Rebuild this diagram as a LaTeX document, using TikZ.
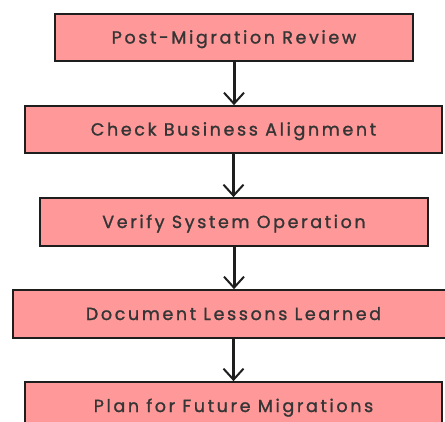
\documentclass[tikz,border=0pt]{standalone}
\usepackage{fontspec}
\setmainfont{Poppins}[LetterSpace=15,FakeBold=1.3]
\usetikzlibrary{arrows.meta}
\definecolor{boxpink}{HTML}{FF9999}
\definecolor{inkdark}{HTML}{1E1E1E}

\begin{document}
\begin{tikzpicture}[x=1pt,y=-1pt,
  stepbox/.style={draw=inkdark, line width=1.7pt, fill=boxpink, inner sep=0pt,
    text=inkdark!90, text height=12pt, text depth=0pt, font=\fontsize{17.5}{20}\selectfont},
  flow/.style={draw=inkdark, line width=3pt, -{Straight Barb[length=11pt,width=20pt,line width=2pt]}}]
\useasboundingbox (0,0) rectangle (445,421);
\clip (0,0) rectangle (445,421);
\node[stepbox, minimum width=358pt, minimum height=47pt] (review) at (234,37.5) {Post-Migration Review};
\node[stepbox, minimum width=417pt, minimum height=47pt] (align) at (233.5,129.5) {Check Business Alignment};
\node[stepbox, minimum width=388pt, minimum height=48pt] (verify) at (234,222) {Verify System Operation};
\node[stepbox, minimum width=433pt, minimum height=48pt] (lessons) at (229.5,314) {\hspace*{8pt}Document Lessons Learned};
\node[stepbox, minimum width=417pt, minimum height=48pt] (future) at (233.5,406) {Plan for Future Migrations};
% connectors down the chain
\draw[flow] (review.south) -- (review.south |- align.north);
\draw[flow] (align.south) -- (align.south |- verify.north);
\draw[flow] (verify.south) -- (verify.south |- lessons.north);
\draw[flow] ([xshift=4pt]lessons.south) -- ([xshift=4pt]lessons.south |- future.north);
\end{tikzpicture}
\end{document}
